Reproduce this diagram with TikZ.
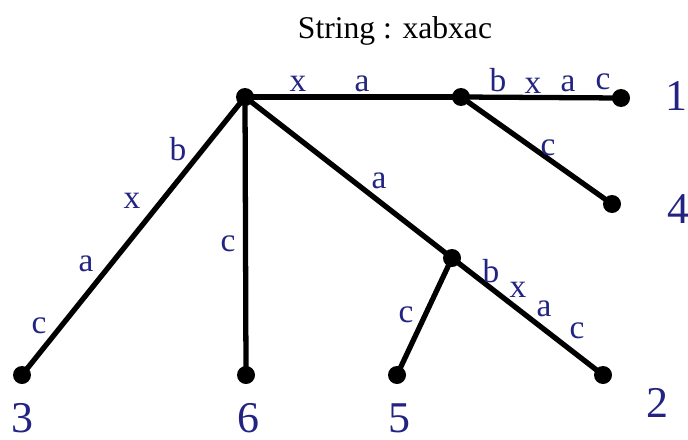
\documentclass[tikz,border=0pt]{standalone}
\usepackage{fontspec}
\setmainfont{Liberation Serif}
\usetikzlibrary{positioning}
\definecolor{lblblue}{RGB}{35,35,130}
\tikzset{
  dot/.style={circle, fill=black, inner sep=0pt, minimum size=0.36cm},
  lbl/.style={text=lblblue, inner sep=0pt, font=\fontsize{19}{21}\selectfont},
  num/.style={text=lblblue, inner sep=0pt, text depth=0pt, anchor=base, font=\fontsize{25}{28}\selectfont},
  branch/.style={line width=3pt}
}
\begin{document}
\begin{tikzpicture}[x=0.02cm, y=-0.02cm]
  \useasboundingbox (0,0) rectangle (688,439);
  \node[font=\fontsize{18}{20}\selectfont] (title) at (395,31) {String : xabxac};
  % internal nodes
  \node[dot] (root) at (245,97) {};
  \node[dot] (na) at (461,97) {};
  \node[dot] (nb) at (452,258) {};
  % leaves
  \foreach \n/\x/\y in {1/621/98, 4/612/204, 2/603/375, 5/397/375, 6/246/375, 3/22/375}
    \node[dot] (leaf\n) at (\x,\y) {};
  % branches
  \foreach \a/\b in {root/na, na/leaf1, na/leaf4, root/nb, nb/leaf2, nb/leaf5, root/leaf6, root/leaf3}
    \draw[branch] (\a.center) -- (\b.center);
  % edge labels
  \foreach \n/\x/\y/\t in {xa1/298/84/x, xa2/362/84/a,
      bxac1/498/80/b, bxac2/533/86/x, bxac3/568/84/a, bxac4/603/82/c,
      c4/548/148/c, a2/379/181/a,
      bxac5/491/271/b, bxac6/518/290/x, bxac7/544/309/a, bxac8/577/331/c,
      c5/406/315/c, c6/228/244/c,
      bxac9/178/149/b, bxac10/132/201/x, bxac11/86/264/a, bxac12/39/326/c}
    \node[lbl] (lbl\n) at (\x,\y) {\t};
  % leaf numbers
  \foreach \n/\x/\y in {1/676/110, 4/678/223, 2/657/417, 3/22/432, 6/248/432, 5/399/432}
    \node[num] (num\n) at (\x,\y) {\n};
\end{tikzpicture}
\end{document}
